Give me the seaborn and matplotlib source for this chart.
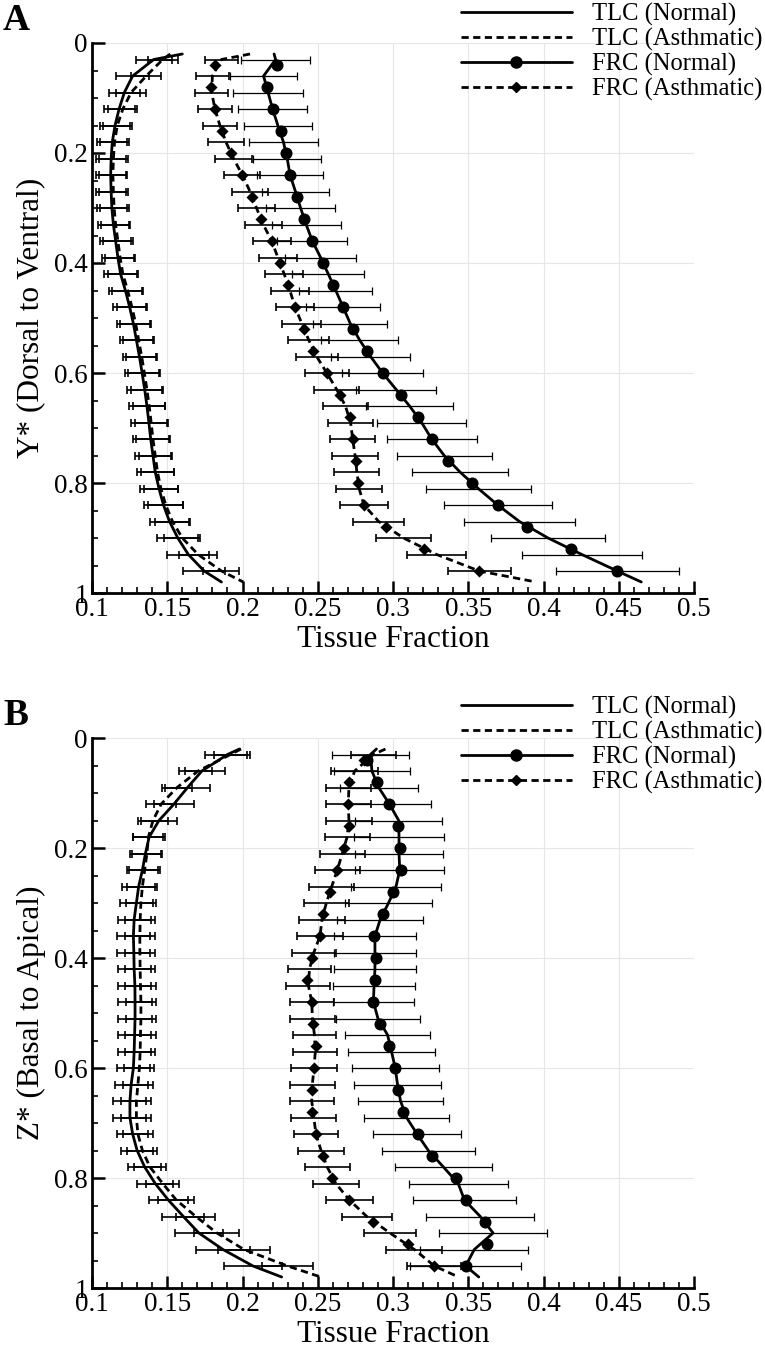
import matplotlib
matplotlib.use("Agg")
import matplotlib.pyplot as plt
import seaborn as sns
from matplotlib.lines import Line2D
from matplotlib.ticker import MultipleLocator, FuncFormatter

sns.set_theme(style="white")
plt.rcParams["font.family"] = ["Liberation Serif", "DejaVu Serif"]
plt.rcParams["text.color"] = "black"
plt.rcParams["axes.labelcolor"] = "black"
plt.rcParams["xtick.color"] = "black"
plt.rcParams["ytick.color"] = "black"

# === Data ===
# y positions of the profile lines (top end, bins, bottom end)
Y_LINE = [0.02, 0.03, 0.06, 0.09, 0.12, 0.15, 0.18, 0.21, 0.24, 0.27, 0.30, 0.33,
          0.36, 0.39, 0.42, 0.45, 0.48, 0.51, 0.54, 0.57, 0.60, 0.63, 0.66, 0.69,
          0.72, 0.75, 0.78, 0.81, 0.84, 0.87, 0.90, 0.93, 0.96, 0.98]
# y positions of the error bars (the bins)
Y_BAR = Y_LINE[1:-1]
# y positions of the FRC symbols
Y_MARK = [0.04, 0.08, 0.12, 0.16, 0.20, 0.24, 0.28, 0.32, 0.36, 0.40, 0.44, 0.48,
          0.52, 0.56, 0.60, 0.64, 0.68, 0.72, 0.76, 0.80, 0.84, 0.88, 0.92, 0.96]

# --- Panel A: dorsal to ventral ---
A_TLC_N = [0.160, 0.141, 0.127, 0.1215, 0.118, 0.1153, 0.1135, 0.1127, 0.1124, 0.1127,
           0.1132, 0.1142, 0.1157, 0.1172, 0.1190, 0.1222, 0.1250, 0.1275, 0.1295, 0.1315,
           0.1333, 0.1350, 0.1365, 0.1378, 0.1390, 0.1405, 0.1420, 0.1445, 0.1475, 0.1515,
           0.1570, 0.1640, 0.1745, 0.1860]
A_TLC_A = [0.152, 0.147, 0.136, 0.126, 0.1205, 0.1168, 0.1150, 0.1142, 0.1139, 0.1142,
           0.1147, 0.1157, 0.1172, 0.1187, 0.1205, 0.1237, 0.1265, 0.1290, 0.1310, 0.1330,
           0.1348, 0.1365, 0.1380, 0.1393, 0.1405, 0.1420, 0.1435, 0.1458, 0.1490, 0.1535,
           0.1600, 0.1705, 0.1860, 0.2005]
A_FRC_N = [0.221, 0.222, 0.214, 0.217, 0.220, 0.2235, 0.2272, 0.2297, 0.2316, 0.2352,
           0.2386, 0.2423, 0.2464, 0.2519, 0.2570, 0.2620, 0.2668, 0.2716, 0.2778, 0.2851,
           0.2931, 0.3021, 0.3110, 0.3190, 0.3257, 0.3340, 0.3445, 0.3566, 0.3696, 0.3840,
           0.4030, 0.4255, 0.4490, 0.4650]
A_FRC_A = [0.205, 0.186, 0.180, 0.1795, 0.1817, 0.185, 0.189, 0.1940, 0.1999, 0.2050,
           0.2093, 0.2138, 0.2194, 0.2235, 0.2277, 0.2315, 0.2349, 0.2394, 0.2440, 0.2493,
           0.2560, 0.2626, 0.2684, 0.2718, 0.2732, 0.2748, 0.2760, 0.2775, 0.2807, 0.2905,
           0.3070, 0.3290, 0.3573, 0.3950]
A_FRC_N_MK = [0.2227, 0.2161, 0.2201, 0.2254, 0.2289, 0.2316, 0.2364, 0.2409, 0.2464, 0.2537,
              0.2603, 0.2668, 0.2732, 0.2825, 0.2931, 0.3051, 0.3168, 0.3257, 0.3368, 0.3523,
              0.3696, 0.3890, 0.4180, 0.4490]
A_FRC_A_MK = [0.1817, 0.1789, 0.1817, 0.1862, 0.1921, 0.1999, 0.2065, 0.2121, 0.2194, 0.2249,
              0.2304, 0.2349, 0.2409, 0.2471, 0.2560, 0.2648, 0.2714, 0.2732, 0.2754, 0.2765,
              0.2807, 0.2953, 0.3208, 0.3573]
A_TLC_N_ERR = [0.012, 0.0108, 0.0105, 0.0103, 0.010, 0.010, 0.010, 0.010, 0.010, 0.010,
               0.0103, 0.0105, 0.0105, 0.0107, 0.0107, 0.0108, 0.0108, 0.011, 0.011, 0.0112,
               0.0115, 0.0117, 0.0118, 0.012, 0.012, 0.0122, 0.0125, 0.0128, 0.013, 0.0135,
               0.014, 0.0138]
A_TLC_A_ERR = [0.010, 0.010, 0.0098, 0.0096, 0.0095, 0.0095, 0.0095, 0.0095, 0.0096, 0.0097,
               0.0098, 0.0099, 0.010, 0.010, 0.0101, 0.0102, 0.0103, 0.0104, 0.0105, 0.0106,
               0.0107, 0.0108, 0.0109, 0.011, 0.011, 0.0111, 0.0112, 0.0115, 0.0118, 0.012,
               0.0125, 0.012]
A_FRC_N_ERR = [0.0227, 0.0225, 0.023, 0.0227, 0.0227, 0.0231, 0.0225, 0.0221, 0.0225, 0.0228,
               0.023, 0.0233, 0.0236, 0.024, 0.0242, 0.0244, 0.0247, 0.0258, 0.0264, 0.027,
               0.0268, 0.029, 0.0295, 0.030, 0.0315, 0.032, 0.035, 0.036, 0.037, 0.038,
               0.040, 0.041]
A_FRC_A_ERR = [0.011, 0.011, 0.011, 0.011, 0.0115, 0.012, 0.012, 0.012, 0.012, 0.0122,
               0.0124, 0.0125, 0.0125, 0.0126, 0.0127, 0.0127, 0.013, 0.0135, 0.014, 0.0145,
               0.015, 0.0152, 0.0152, 0.015, 0.015, 0.015, 0.0155, 0.016, 0.017, 0.018,
               0.0195, 0.021]

# --- Panel B: basal to apical ---
B_TLC_N = [0.198, 0.190, 0.173, 0.1635, 0.1545, 0.1445, 0.138, 0.1355, 0.1335, 0.131,
           0.1295, 0.128, 0.1275, 0.1278, 0.128, 0.1285, 0.1286, 0.1286, 0.1283, 0.128,
           0.1275, 0.126, 0.1252, 0.1252, 0.127, 0.130, 0.135, 0.142, 0.1507, 0.1607,
           0.1710, 0.1870, 0.2070, 0.2260]
B_TLC_A = [0.199, 0.192, 0.1705, 0.1565, 0.146, 0.1405, 0.1375, 0.1365, 0.135, 0.1335,
           0.1325, 0.132, 0.1318, 0.1318, 0.132, 0.1322, 0.1325, 0.1325, 0.1322, 0.132,
           0.1315, 0.1305, 0.1295, 0.1295, 0.1305, 0.1335, 0.1385, 0.1470, 0.1560, 0.1690,
           0.1830, 0.2010, 0.2300, 0.2520]
B_FRC_N = [0.289, 0.285, 0.286, 0.2905, 0.2976, 0.3038, 0.304, 0.304, 0.3045, 0.302,
           0.297, 0.2915, 0.288, 0.288, 0.288, 0.2874, 0.287, 0.290, 0.2964, 0.299,
           0.3015, 0.303, 0.305, 0.309, 0.316, 0.3235, 0.3335, 0.3433, 0.3475, 0.358,
           0.3665, 0.354, 0.3483, 0.357]
B_FRC_A = [0.295, 0.287, 0.2745, 0.2707, 0.2703, 0.2707, 0.2695, 0.2663, 0.2630, 0.2593,
           0.2557, 0.2528, 0.2515, 0.2474, 0.2445, 0.2438, 0.2460, 0.2465, 0.2478, 0.2484,
           0.2475, 0.2464, 0.2460, 0.2474, 0.2488, 0.2522, 0.2563, 0.2620, 0.2710, 0.2826,
           0.2980, 0.3142, 0.3275, 0.3435]
B_FRC_N_MK = [0.2825, 0.2892, 0.2976, 0.3036, 0.3047, 0.3051, 0.3002, 0.2932, 0.2874, 0.2885,
              0.2880, 0.2869, 0.2914, 0.2976, 0.3013, 0.3035, 0.3069, 0.3164, 0.3257, 0.3417,
              0.3483, 0.3611, 0.3627, 0.3483]
B_FRC_A_MK = [0.281, 0.2710, 0.2703, 0.2708, 0.2674, 0.2630, 0.2581, 0.2533, 0.2515, 0.2460,
              0.2431, 0.2460, 0.2466, 0.2486, 0.2475, 0.2460, 0.2460, 0.2488, 0.2533, 0.2593,
              0.2710, 0.2865, 0.3098, 0.3275]
B_TLC_N_ERR = [0.015, 0.0155, 0.015, 0.013, 0.012, 0.0105, 0.0105, 0.0105, 0.011, 0.011,
               0.011, 0.011, 0.011, 0.011, 0.011, 0.011, 0.011, 0.011, 0.011, 0.011,
               0.011, 0.011, 0.011, 0.0105, 0.0105, 0.011, 0.012, 0.013, 0.014, 0.016,
               0.018, 0.019]
B_TLC_A_ERR = [0.011, 0.009, 0.010, 0.010, 0.010, 0.010, 0.0102, 0.0102, 0.010, 0.010,
               0.010, 0.010, 0.010, 0.010, 0.010, 0.010, 0.010, 0.010, 0.010, 0.010,
               0.010, 0.010, 0.010, 0.010, 0.010, 0.0105, 0.011, 0.012, 0.013, 0.015,
               0.017, 0.017]
B_FRC_N_ERR = [0.0255, 0.0255, 0.026, 0.0277, 0.029, 0.0296, 0.0295, 0.0296, 0.0296, 0.0286,
               0.0286, 0.027, 0.0274, 0.0274, 0.027, 0.027, 0.0277, 0.0285, 0.0288, 0.0288,
               0.0292, 0.028, 0.0285, 0.029, 0.0307, 0.032, 0.033, 0.034, 0.036, 0.036,
               0.036, 0.037]
B_FRC_A_ERR = [0.015, 0.0155, 0.015, 0.015, 0.0153, 0.015, 0.015, 0.015, 0.015, 0.015,
               0.015, 0.015, 0.0148, 0.0142, 0.0146, 0.0145, 0.015, 0.0145, 0.0147, 0.015,
               0.015, 0.0146, 0.015, 0.0147, 0.015, 0.015, 0.0152, 0.0158, 0.0168, 0.0174,
               0.0186, 0.018]

LEGEND_LABELS = ["TLC (Normal)", "TLC (Asthmatic)", "FRC (Normal)", "FRC (Asthmatic)"]

# === Layout (pixels) ===
W, H = 765, 1355
DASH = (0, (2.6, 1.6))
fig = plt.figure(figsize=(W / 100, H / 100), dpi=100)


def px_axes(left, top, right, bottom):
    return fig.add_axes([left / W, 1 - bottom / H, (right - left) / W, (bottom - top) / H])


def draw_panel(ax, tlc_n, tlc_a, frc_n, frc_a, frc_n_mk, frc_a_mk,
               tlc_n_err, tlc_a_err, frc_n_err, frc_a_err, ylabel):
    # error bars
    for line, err, lw in [(tlc_n, tlc_n_err, 1.2), (tlc_a, tlc_a_err, 1.2),
                          (frc_n, frc_n_err, 0.9), (frc_a, frc_a_err, 1.2)]:
        ax.errorbar(line[1:-1], Y_BAR, xerr=err, fmt="none", ecolor="black",
                    elinewidth=lw, capsize=3, capthick=lw, zorder=2)
    # profiles
    for line, ls in [(tlc_n, "-"), (tlc_a, DASH), (frc_n, "-"), (frc_a, DASH)]:
        sns.lineplot(x=line, y=Y_LINE, sort=False, estimator=None, ax=ax,
                     color="black", linewidth=2.0, linestyle=ls, zorder=3)
    # symbols
    sns.scatterplot(x=frc_n_mk, y=Y_MARK, ax=ax, marker="o", s=75,
                    color="black", edgecolor="black", linewidth=0, zorder=4)
    sns.scatterplot(x=frc_a_mk, y=Y_MARK, ax=ax, marker="D", s=38,
                    color="black", edgecolor="black", linewidth=0, zorder=4)

    ax.set_xlim(0.1, 0.5)
    ax.set_ylim(1, 0)
    ax.xaxis.set_major_locator(MultipleLocator(0.05))
    ax.xaxis.set_minor_locator(MultipleLocator(0.01))
    ax.yaxis.set_major_locator(MultipleLocator(0.2))
    ax.yaxis.set_minor_locator(MultipleLocator(0.05))
    fmt = FuncFormatter(lambda v, p: f"{v:g}")
    ax.xaxis.set_major_formatter(fmt)
    ax.yaxis.set_major_formatter(fmt)
    ax.tick_params(which="major", direction="in", length=9, width=1.8,
                   labelsize=19.5, pad=3, color="black", labelcolor="black",
                   bottom=True, left=True, top=False, right=False)
    ax.tick_params(which="minor", direction="in", length=4.5, width=1.2,
                   color="black", bottom=True, left=True, top=False, right=False)
    ax.grid(True, which="major", color="#e6e6e6", linewidth=0.8)
    ax.set_axisbelow(True)
    for side in ["top", "right"]:
        ax.spines[side].set_visible(False)
    for side in ["left", "bottom"]:
        ax.spines[side].set_color("black")
        ax.spines[side].set_linewidth(2.0)
    ax.set_xlabel("Tissue Fraction", fontsize=22.5, labelpad=2, color="black")
    ax.set_ylabel(ylabel, fontsize=22.5, labelpad=6, color="black")


def add_legend(ax, top_px):
    handles = [
        Line2D([], [], color="black", lw=2.0, ls="-"),
        Line2D([], [], color="black", lw=2.0, ls=DASH),
        Line2D([], [], color="black", lw=2.0, ls="-", marker="o", markersize=8),
        Line2D([], [], color="black", lw=2.0, ls=DASH, marker="D", markersize=5.5),
    ]
    ax.legend(handles, LEGEND_LABELS, loc="upper right",
              bbox_to_anchor=(763 / W, 1 - top_px / H), bbox_transform=fig.transFigure,
              frameon=False, fontsize=17.7, handlelength=4.5, handletextpad=0.85,
              labelspacing=0.08, borderpad=0, borderaxespad=0, numpoints=1)


ax_a = px_axes(92, 43, 694, 593)
draw_panel(ax_a, A_TLC_N, A_TLC_A, A_FRC_N, A_FRC_A, A_FRC_N_MK, A_FRC_A_MK,
           A_TLC_N_ERR, A_TLC_A_ERR, A_FRC_N_ERR, A_FRC_A_ERR, "Y* (Dorsal to Ventral)")
add_legend(ax_a, 3)

ax_b = px_axes(92, 738, 694, 1288)
draw_panel(ax_b, B_TLC_N, B_TLC_A, B_FRC_N, B_FRC_A, B_FRC_N_MK, B_FRC_A_MK,
           B_TLC_N_ERR, B_TLC_A_ERR, B_FRC_N_ERR, B_FRC_A_ERR, "Z* (Basal to Apical)")
add_legend(ax_b, 696)

fig.text(3 / W, 1 - 3 / H, "A", fontsize=27, fontweight="bold", va="top", ha="left")
fig.text(3 / W, 1 - 698 / H, "B", fontsize=27, fontweight="bold", va="top", ha="left")

fig.savefig("out.png", dpi=100)
